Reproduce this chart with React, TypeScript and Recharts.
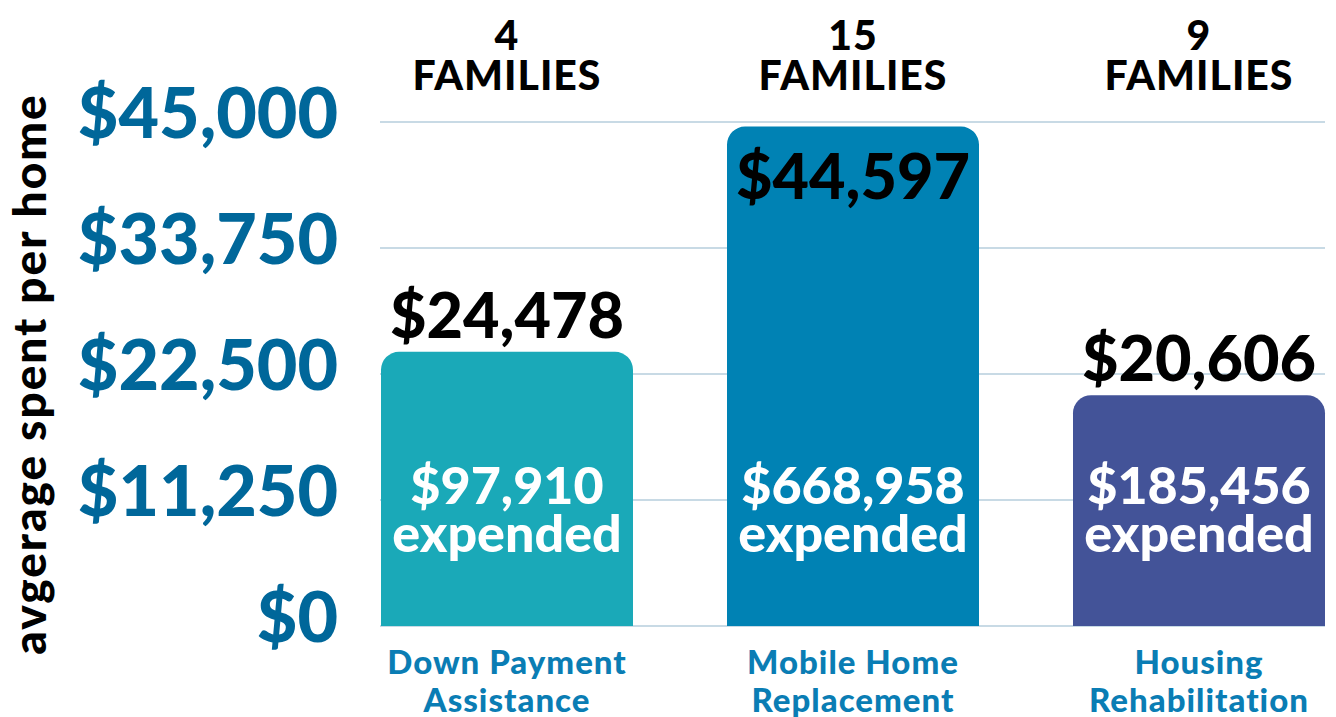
import { BarChart, Bar, XAxis, YAxis, CartesianGrid, LabelList, Cell } from "recharts"

const programs = ["Down Payment Assistance", "Mobile Home Replacement", "Housing Rehabilitation"]
const programLines = [
  ["Down Payment", "Assistance"],
  ["Mobile Home", "Replacement"],
  ["Housing", "Rehabilitation"],
]
const families = [4, 15, 9]
const averages = [24478, 44597, 20606]
const expended = [97910, 668958, 185456]
const yTicks = [0, 11250, 22500, 33750, 45000]
const barColors = ["#1aa9b8", "#0082b4", "#435398"]

const data = programs.map((name, i) => ({
  name,
  average: averages[i],
  expended: expended[i],
  families: families[i],
}))

const FONT = "Lato, 'Open Sans', sans-serif"
const yMax = yTicks[yTicks.length - 1]

const money = (v: number) => "$" + v.toLocaleString("en-US")

function YTick({ x, y, payload }: any) {
  return (
    <text x={x + 4} y={y + 16} textAnchor="end" fill="#00679a" fontSize={70} fontWeight={900} fontFamily={FONT}>
      {money(payload.value)}
    </text>
  )
}

function BottomTick({ x, y, payload, index }: any) {
  const lines = programLines[index] ?? [payload.value]
  return (
    <text x={x} textAnchor="middle" fill="#0a7db4" fontSize={33} fontWeight={900} fontFamily={FONT} letterSpacing={1}>
      <tspan x={x} y={y + 48}>{lines[0]}</tspan>
      <tspan x={x} y={y + 86}>{lines[1]}</tspan>
    </text>
  )
}

function TopTick({ x, y, index }: any) {
  return (
    <text x={x} textAnchor="middle" fill="#000" fontSize={41} fontWeight={900} fontFamily={FONT} letterSpacing={1}>
      <tspan x={x} y={y - 72}>{families[index]}</tspan>
      <tspan x={x} y={y - 32}>FAMILIES</tspan>
    </text>
  )
}

function ValueLabel({ x, y, width, value }: any) {
  const inside = value / yMax > 0.85
  return (
    <text
      x={x + width / 2}
      y={inside ? y + 72 : y - 14}
      textAnchor="middle"
      fill="#000"
      fontSize={63}
      fontWeight={900}
      fontFamily={FONT}
    >
      {money(value)}
    </text>
  )
}

function ExpendedLabel({ x, y, width, height, value }: any) {
  const bottom = y + height
  const cx = x + width / 2
  return (
    <text textAnchor="middle" fill="#fff" fontSize={52} fontWeight={900} fontFamily={FONT}>
      <tspan x={cx} y={bottom - 122}>{money(value)}</tspan>
      <tspan x={cx} y={bottom - 74}>expended</tspan>
    </text>
  )
}

function GridLine(p: any) {
  return (
    <line
      key={`grid-${p.y1}`}
      x1={p.x1 + 46}
      x2={p.x2 - 47}
      y1={p.y1}
      y2={p.y2}
      stroke="#c8dae5"
      strokeWidth={2}
    />
  )
}

export default function App() {
  return (
    <div style={{ position: "absolute", left: 0, top: 0, background: "#fff" }}>
      <BarChart
        width={1336}
        height={717}
        data={data}
        margin={{ top: 92, right: -36, bottom: 61, left: 0 }}
        barSize={252}
      >
        <CartesianGrid vertical={false} horizontal={GridLine} />
        <XAxis
          dataKey="name"
          axisLine={false}
          tickLine={false}
          tickSize={0}
          tickMargin={0}
          interval={0}
          height={30}
          tick={<BottomTick />}
        />
        <XAxis
          xAxisId="top"
          orientation="top"
          dataKey="name"
          axisLine={false}
          tickLine={false}
          tickSize={0}
          tickMargin={0}
          interval={0}
          height={30}
          tick={<TopTick />}
        />
        <YAxis
          width={334}
          domain={[0, yMax]}
          ticks={yTicks}
          axisLine={false}
          tickLine={false}
          tickSize={0}
          tickMargin={0}
          interval={0}
          tick={<YTick />}
          label={{
            content: ({ viewBox }: any) => {
              const lx = viewBox.x + 46
              const ly = viewBox.y + viewBox.height / 2
              return (
                <text
                  x={lx}
                  y={ly}
                  transform={`rotate(-90, ${lx}, ${ly})`}
                  textAnchor="middle"
                  fill="#000"
                  fontSize={46}
                  fontWeight={900}
                  fontFamily={FONT}
                  letterSpacing={2}
                >
                  avgerage spent per home
                </text>
              )
            },
          }}
        />
        <Bar dataKey="average" radius={[18, 18, 0, 0]} isAnimationActive={false}>
          {data.map((d, i) => (
            <Cell key={d.name} fill={barColors[i]} />
          ))}
          <LabelList dataKey="average" content={<ValueLabel />} />
          <LabelList dataKey="expended" content={<ExpendedLabel />} />
        </Bar>
      </BarChart>
    </div>
  )
}
